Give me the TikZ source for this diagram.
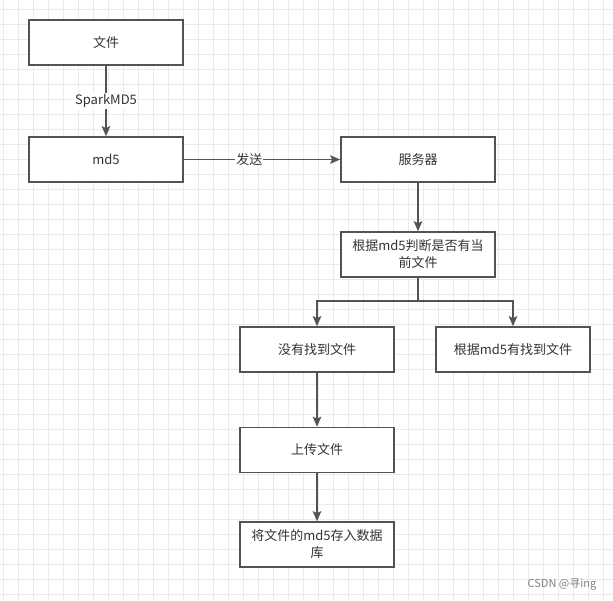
\documentclass[tikz,border=0pt]{standalone}
\usepackage{fontspec}
\setmainfont{Noto Sans CJK SC}
\usetikzlibrary{arrows.meta}
\definecolor{boxline}{HTML}{50545A}
\definecolor{txt}{HTML}{333333}
\definecolor{gridcol}{HTML}{EAEAEA}
\begin{document}
\begin{tikzpicture}[x=1pt,y=-1pt,
  box/.style={draw=boxline,line width=1.6pt,fill=white,minimum width=154pt,minimum height=45pt,
    text=txt,align=center,font=\fontsize{13}{17}\selectfont},
  arr/.style={draw=boxline,line width=1.6pt,-{Stealth[length=10pt,width=8.5pt,inset=2pt]}},
  lbl/.style={fill=white,inner sep=1pt,text=txt,font=\fontsize{13}{15}\selectfont},
  gridline/.style={draw=gridcol,line width=0.8pt}]
\useasboundingbox[fill=white] (0,0) rectangle (613,600);
% grid
\foreach \k in {0,...,40} \draw[gridline] ({3.3+15*\k},0) -- ({3.3+15*\k},600);
\foreach \k in {0,...,39} \draw[gridline] (0,{9.3+15*\k}) -- (613,{9.3+15*\k});
% boxes
\node[box] (wj) at (106,42.5) {文件};
\node[box] (md5) at (106,159.5) {md5};
\node[box] (fwq) at (418,159.5) {服务器};
\node[box] (pd) at (418,254.5) {根据md5判断是否有当\\前文件};
\node[box] (mzd) at (317,349.5) {没有找到文件};
\node[box] (yzd) at (513,349.5) {根据md5有找到文件};
\node[box] (sc) at (317,450) {上传文件};
\node[box] (cr) at (317,544.5) {将文件的md5存入数据\\库};
\coordinate (fork) at (418,301);
% arrows
\draw[arr] (wj) -- node[lbl]{SparkMD5} (md5);
\draw[arr] (md5) -- node[lbl,pos=0.42]{发送} (fwq);
\draw[arr] (fwq) -- (pd);
\draw[arr] (pd.south) -- (fork) -| (mzd.north);
\draw[arr] (fork) -| (yzd.north);
\draw[arr] (mzd) -- (sc);
\draw[arr] (sc) -- (cr);
\node[text=gray,font=\fontsize{11}{12}\selectfont] (wm) at (562,584) {CSDN @寻ing};
\end{tikzpicture}
\end{document}
